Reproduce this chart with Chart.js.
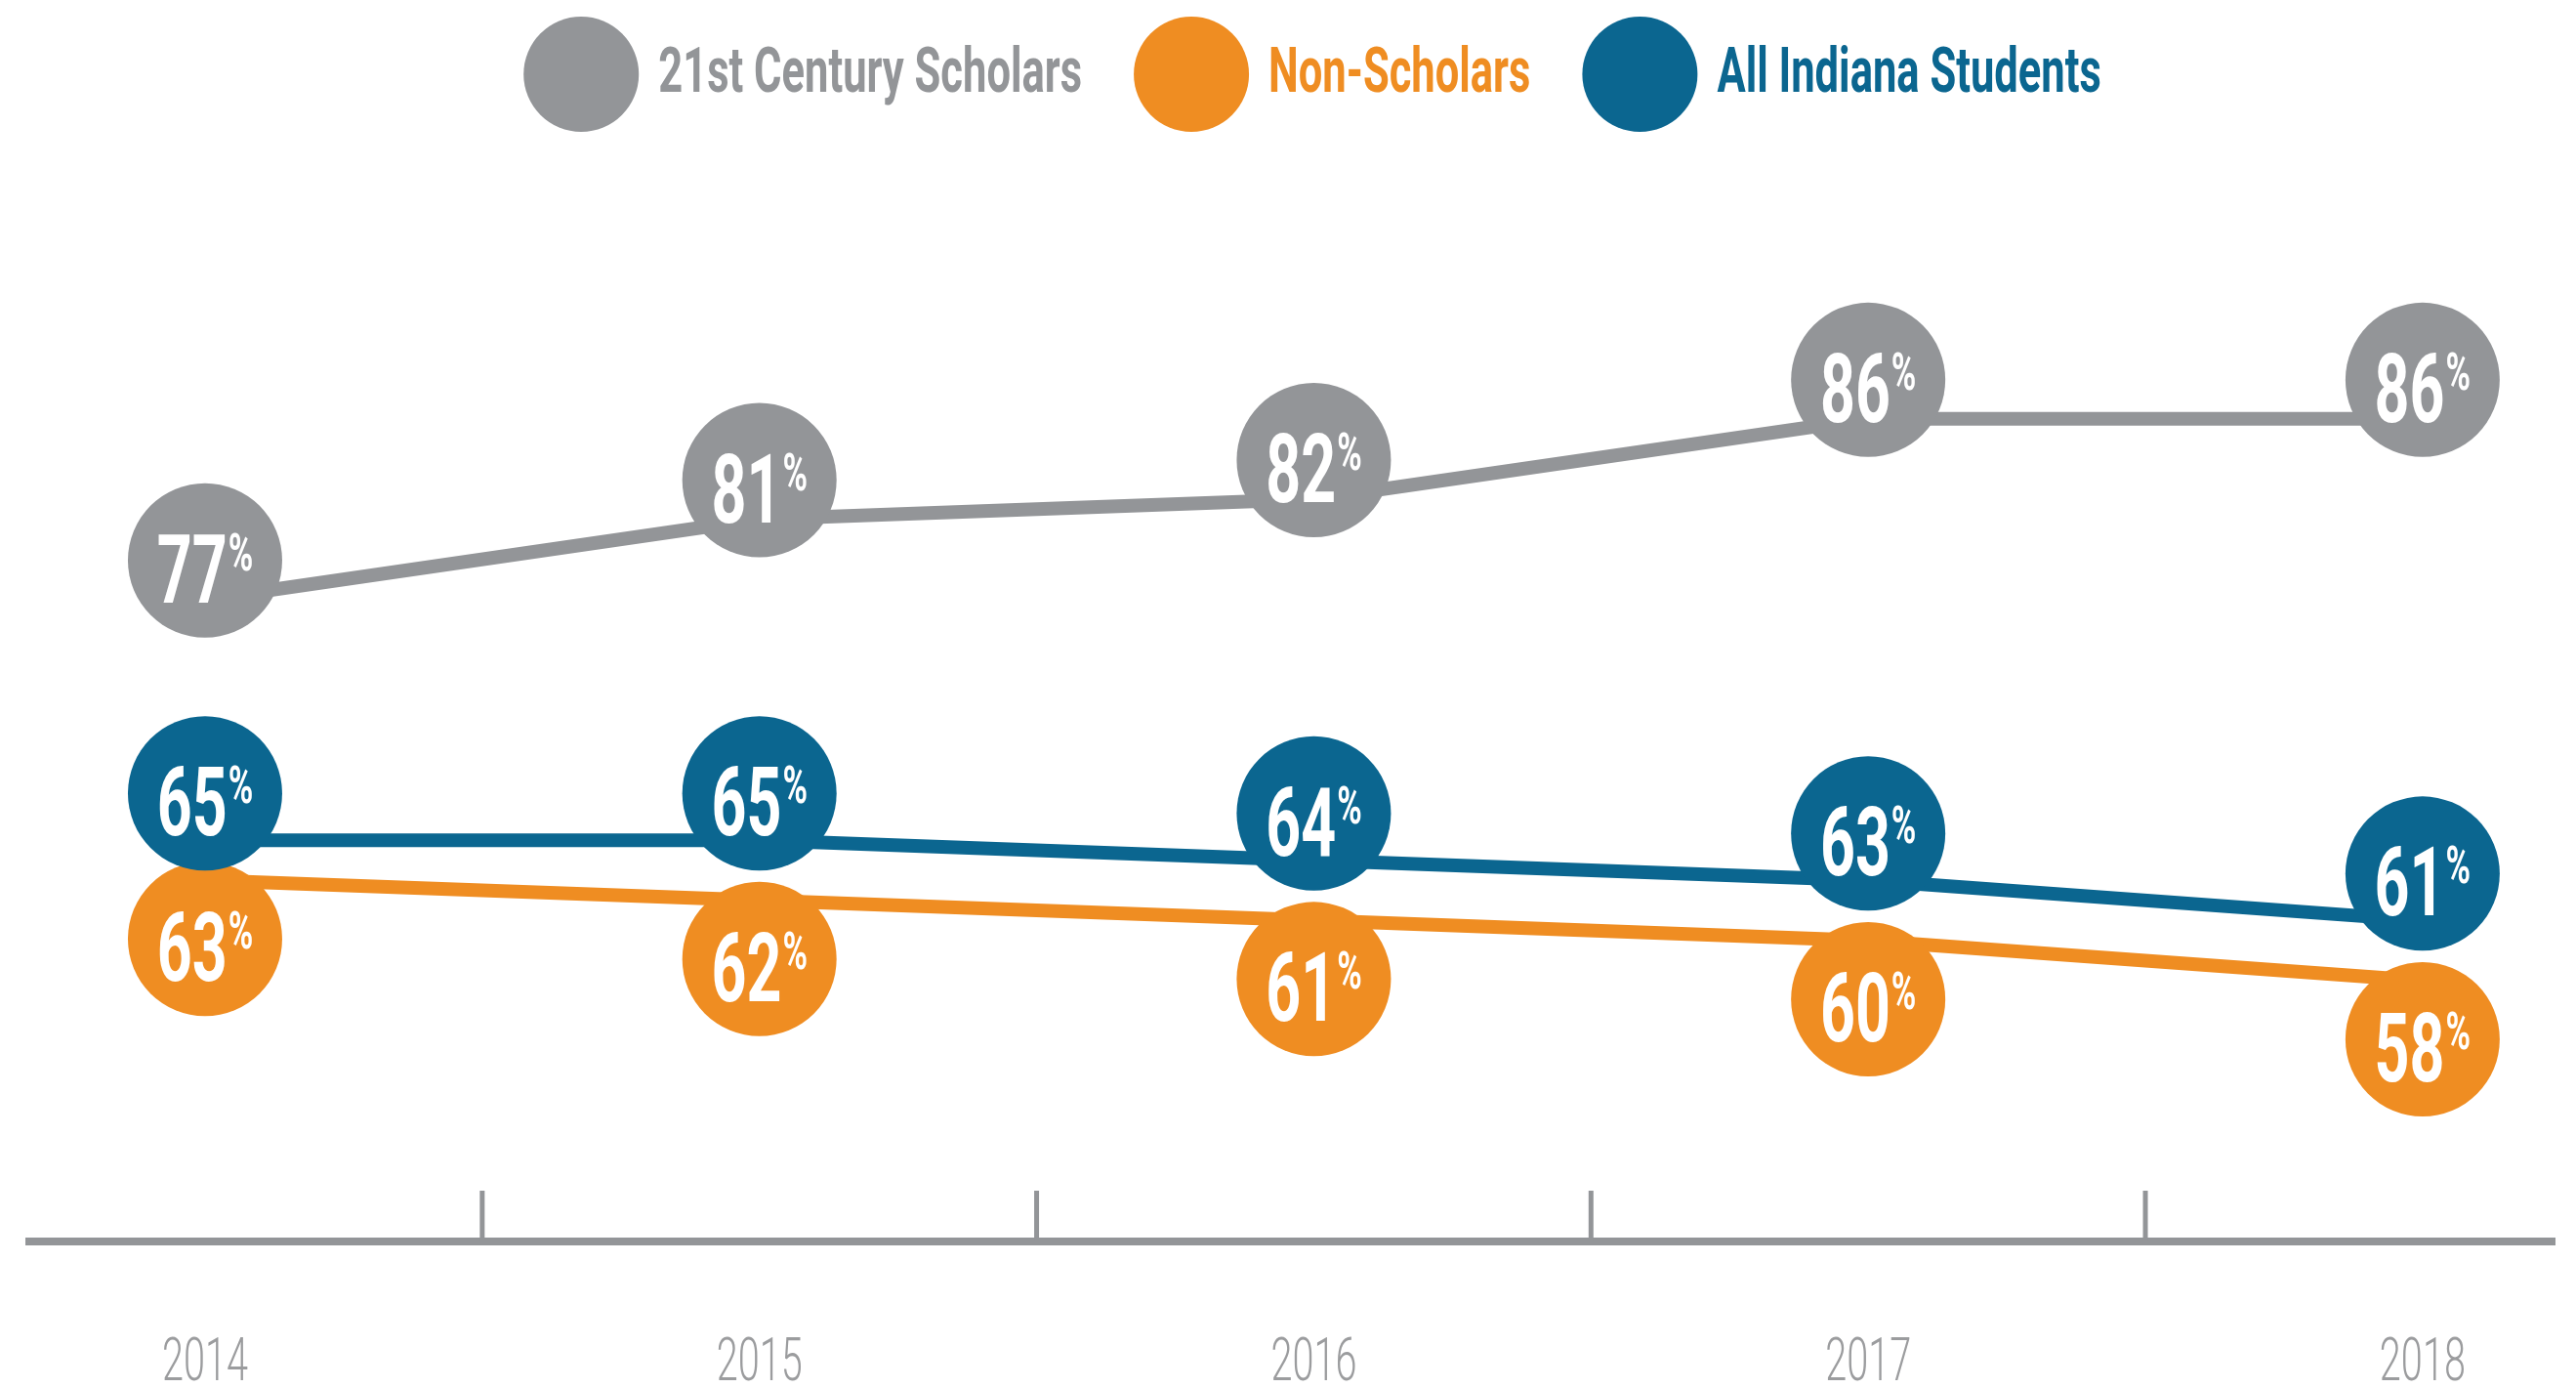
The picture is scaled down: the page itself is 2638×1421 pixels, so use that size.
<!DOCTYPE html>
<html>
<head>
<meta charset="utf-8">
<title>21st Century Scholars chart</title>
<script src="https://cdn.jsdelivr.net/npm/chart.js@4.4.1/dist/chart.umd.min.js"></script>
<style>
  html, body { margin: 0; padding: 0; background: #fff; }
  #wrap { width: 2638px; height: 1421px; position: relative; }
</style>
</head>
<body>
<div id="wrap"><canvas id="chart"></canvas></div>
<script>
// Data
const years = ['2014', '2015', '2016', '2017', '2018'];
const scholars = [77, 81, 82, 86, 86];
const nonScholars = [63, 62, 61, 60, 58];
const allIndiana = [65, 65, 64, 63, 61];

const GREY = '#939598';
const ORANGE = '#ef8d22';
const BLUE = '#0b6690';
const LABEL_GREY = '#9b9c9e';

// the original uses a narrow display face, so squeeze the text horizontally
const SQUEEZE = 0.64;
const LEGEND_SQUEEZE = 0.68;

function squeezedText(ctx, text, x, y, squeeze) {
    ctx.save();
    ctx.translate(x, y);
    ctx.scale(squeeze, 1);
    ctx.fillText(text, 0, 0);
    ctx.restore();
}

function toPoints(values) {
    return values.map((v, i) => ({ x: i, y: v }));
}

// Circles with the value printed inside, sitting just off each line point
const bubblePlugin = {
    id: 'bubbles',
    afterDatasetsDraw(chart) {
        const ctx = chart.ctx;
        chart.data.datasets.forEach((ds, di) => {
            const meta = chart.getDatasetMeta(di);
            meta.data.forEach((pt, i) => {
                const cx = pt.x;
                const cy = pt.y + ds.bubbleOffset;
                ctx.save();
                ctx.beginPath();
                ctx.arc(cx, cy, 79, 0, Math.PI * 2);
                ctx.fillStyle = ds.borderColor;
                ctx.fill();

                const val = String(ds.data[i].y);
                ctx.fillStyle = '#ffffff';
                ctx.textAlign = 'left';
                ctx.textBaseline = 'alphabetic';
                ctx.font = 'bold 98px Roboto';
                const w1 = ctx.measureText(val).width * SQUEEZE;
                ctx.font = 'bold 54px Roboto';
                const w2 = ctx.measureText('%').width * SQUEEZE;
                const left = cx - (w1 + w2 + 1) / 2;
                ctx.font = 'bold 98px Roboto';
                squeezedText(ctx, val, left, cy + 43, SQUEEZE);
                ctx.font = 'bold 54px Roboto';
                squeezedText(ctx, '%', left + w1 + 1, cy + 10, SQUEEZE);
                ctx.restore();
            });
        });
    }
};

// Little upright ticks between the years, year labels and the legend
const decorPlugin = {
    id: 'decor',
    afterDraw(chart) {
        const ctx = chart.ctx;
        const x = chart.scales.x;
        const area = chart.chartArea;

        ctx.save();
        ctx.strokeStyle = GREY;
        ctx.lineWidth = 5;
        for (let i = 0; i < years.length - 1; i++) {
            const px = x.getPixelForValue(i + 0.5);
            ctx.beginPath();
            ctx.moveTo(px, area.bottom);
            ctx.lineTo(px, area.bottom - 52);
            ctx.stroke();
        }

        // year labels
        ctx.fillStyle = LABEL_GREY;
        ctx.font = '300 62px Roboto';
        ctx.textBaseline = 'middle';
        ctx.textAlign = 'center';
        years.forEach((y, i) => {
            squeezedText(ctx, y, x.getPixelForValue(i), area.bottom + 126, SQUEEZE);
        });

        // legend
        const r = 59;
        const gapText = 20;
        const gapItem = 53;
        ctx.font = 'bold 64px Roboto';
        ctx.textAlign = 'left';
        const items = chart.data.datasets.map(ds => ({
            label: ds.label,
            color: ds.borderColor,
            w: ctx.measureText(ds.label).width * LEGEND_SQUEEZE
        }));
        let total = 0;
        items.forEach((it, i) => {
            total += 2 * r + gapText + it.w + (i < items.length - 1 ? gapItem : 0);
        });
        let lx = chart.width / 2 - total / 2 + 25;
        const ly = 76;
        items.forEach(it => {
            ctx.beginPath();
            ctx.arc(lx + r, ly, r, 0, Math.PI * 2);
            ctx.fillStyle = it.color;
            ctx.fill();
            ctx.textBaseline = 'middle';
            squeezedText(ctx, it.label, lx + 2 * r + gapText, ly + 2, LEGEND_SQUEEZE);
            lx += 2 * r + gapText + it.w + gapItem;
        });
        ctx.restore();
    }
};

const ctx = document.getElementById('chart').getContext('2d');

new Chart(ctx, {
    type: 'line',
    data: {
        datasets: [{
            label: '21st Century Scholars',
            data: toPoints(scholars),
            borderColor: GREY,
            backgroundColor: GREY,
            bubbleOffset: -40
        }, {
            label: 'Non-Scholars',
            data: toPoints(nonScholars),
            borderColor: ORANGE,
            backgroundColor: ORANGE,
            bubbleOffset: 60
        }, {
            label: 'All Indiana Students',
            data: toPoints(allIndiana),
            borderColor: BLUE,
            backgroundColor: BLUE,
            bubbleOffset: -48
        }]
    },
    options: {
        responsive: true,
        maintainAspectRatio: false,
        animation: false,
        devicePixelRatio: 1,
        layout: {
            padding: { top: 244, bottom: 150, left: 30, right: 22 }
        },
        elements: {
            line: { borderWidth: 14, tension: 0, borderCapStyle: 'round' },
            point: { radius: 0, hoverRadius: 0 }
        },
        scales: {
            x: {
                type: 'linear',
                min: -0.317,
                max: 4.238,
                grid: { display: false, drawTicks: false },
                ticks: { display: false },
                border: { display: true, color: GREY, width: 8 }
            },
            y: {
                display: false,
                min: 45,
                max: 95
            }
        },
        plugins: {
            legend: { display: false },
            tooltip: { enabled: false }
        }
    },
    plugins: [bubblePlugin, decorPlugin]
});
</script>
</body>
</html>
